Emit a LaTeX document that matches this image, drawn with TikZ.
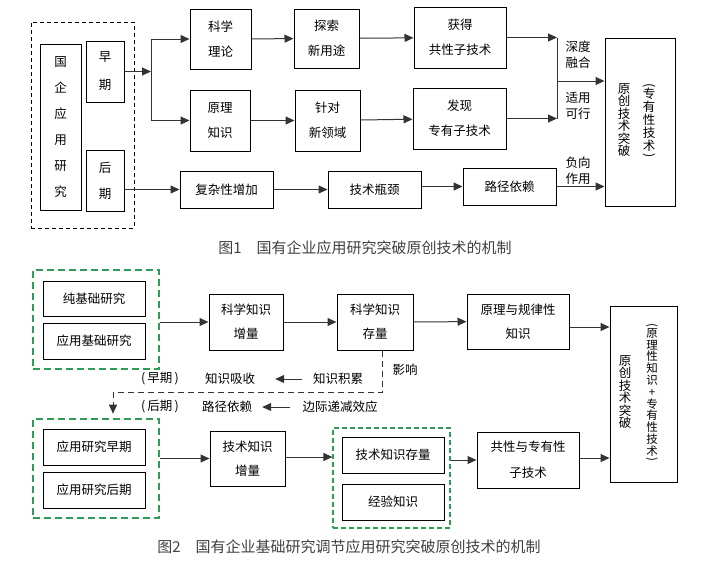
\documentclass[tikz,border=0pt]{standalone}
\usepackage{fontspec}
\setmainfont{Noto Sans CJK SC}
\usetikzlibrary{arrows.meta, calc}
\definecolor{dgreen}{HTML}{2E9B57}
\newcommand{\vlp}{\rotatebox[origin=c]{-90}{(}}
\newcommand{\vrp}{\rotatebox[origin=c]{-90}{)}}
\tikzset{
  >={Triangle[length=9pt, width=8pt]},
  box/.style={draw, line width=1pt, inner sep=0pt, align=center, font=\fontsize{12.5}{25}\selectfont},
  wire/.style={->, line width=1pt, black!80},
  lab/.style={inner sep=0pt, align=center, font=\fontsize{12.5}{16}\selectfont},
  vtext/.style={inner sep=0pt, align=center, font=\fontsize{12.5}{12.5}\selectfont},
  gframe/.style={draw=dgreen, line width=2.6pt, dash pattern=on 7pt off 4pt},
  gframethin/.style={draw=dgreen, line width=1.2pt, dash pattern=on 5pt off 3pt},
  capt/.style={inner sep=0pt, font=\fontsize{15}{18}\selectfont, text=black!75},
}

\begin{document}
\begin{tikzpicture}[x=1pt, y=-1pt]
  \useasboundingbox (0,0) rectangle (703,560);
  % ---------- figure 1 ----------
  \node[draw, line width=0.9pt, dash pattern=on 4pt off 3pt, minimum width=103pt, minimum height=206pt] (frame) at (82.5,125) {};
  \node[box, minimum width=41pt, minimum height=166pt, font=\fontsize{12.5}{26}\selectfont] (gqyy) at (60.5,127) {国\\企\\应\\用\\研\\究};
  \node[box, minimum width=38pt, minimum height=61pt, font=\fontsize{12.5}{28}\selectfont] (zaoqi) at (105,71.5) {早\\期};
  \node[box, minimum width=38pt, minimum height=61pt, font=\fontsize{12.5}{26}\selectfont] (houqi) at (105,180.5) {后\\期};

  \node[box, minimum width=61pt, minimum height=60pt] (kxll) at (220.5,39) {科学\\理论};
  \node[box, minimum width=65pt, minimum height=59pt] (tsxyt) at (326.5,38.5) {探索\\新用途};
  \node[box, minimum width=92pt, minimum height=61pt] (hdgx) at (460,37.5) {获得\\共性子技术};
  \node[box, minimum width=60pt, minimum height=61pt] (ylzs) at (220,120.5) {原理\\知识};
  \node[box, minimum width=65pt, minimum height=61pt] (zdxly) at (327.5,120.5) {针对\\新领域};
  \node[box, minimum width=93pt, minimum height=61pt] (fxzy) at (459.5,118.5) {发现\\专有子技术};
  \node[box, minimum width=93pt, minimum height=37pt] (fzx) at (226.5,189.5) {复杂性增加};
  \node[box, minimum width=93pt, minimum height=37pt] (jspj) at (374.5,189.5) {技术瓶颈};
  \node[box, minimum width=93pt, minimum height=37pt] (ljyl) at (509.5,186.5) {路径依赖};

  \node[box, minimum width=70pt, minimum height=168pt] (yc1) at (640,122) {};
  \node[vtext] (yc1a) at (624,120) {原\\创\\技\\术\\突\\破};
  \node[vtext, font=\fontsize{12.5}{13}\selectfont] (yc1b) at (649,121.5) {\vlp\\[-4pt]专\\有\\性\\技\\术\\[-4pt]\vrp};

  \coordinate (br) at (151,71.5);
  \coordinate (mg) at (557,81);
  \draw[wire] (zaoqi.east) -- (br);
  \draw[wire] (br) |- (kxll.west);
  \draw[wire] (br) |- (ylzs.west);
  \draw[wire] (kxll) -- (tsxyt);
  \draw[wire] (tsxyt) -- (hdgx);
  \draw[wire] (ylzs) -- (zdxly);
  \draw[wire] (zdxly) -- (fxzy);
  \draw[wire] (hdgx.east) -- (hdgx.east -| mg);
  \draw[wire] (fxzy.east) -- (fxzy.east -| mg);
  \draw[line width=1pt, black!80] (mg |- hdgx.east) -- (mg |- fxzy.east);
  \draw[wire] (mg) -- (mg -| yc1.west);
  \draw[wire] (houqi.east |- fzx) -- (fzx);
  \draw[wire] (fzx) -- (jspj.west |- fzx);
  \draw[wire] (jspj.east |- ljyl) -- (ljyl);
  \draw[wire] (ljyl.east) -- (ljyl.east -| yc1.west);

  \node[lab] (sdrh) at (578,55) {深度\\融合};
  \node[lab] (sykx) at (578,105.5) {适用\\可行};
  \node[lab] (fxzy2) at (578,170.5) {负向\\作用};

  \node[capt] (cap1) at (365,248) {图1\hspace{1em}国有企业应用研究突破原创技术的机制};

  % ---------- figure 2 ----------
  \node[gframe, minimum width=126pt, minimum height=99pt] (gbox1) at (96,319.5) {};
  \node[box, minimum width=102pt, minimum height=35pt] (cjc) at (94,298.5) {纯基础研究};
  \node[box, minimum width=102pt, minimum height=36pt] (yyjc) at (94,341) {应用基础研究};
  \node[box, minimum width=74pt, minimum height=56pt, font=\fontsize{12.5}{24}\selectfont] (kxzl) at (246,322) {科学知识\\增量};
  \node[box, minimum width=76pt, minimum height=56pt, font=\fontsize{12.5}{24}\selectfont] (kxcl) at (375,322) {科学知识\\存量};
  \node[box, minimum width=102pt, minimum height=55pt, font=\fontsize{12.5}{24}\selectfont] (ylgl) at (518,321.5) {原理与规律性\\知识};

  \node[box, minimum width=67pt, minimum height=176pt] (yc2) at (643.5,394) {};
  \node[vtext] (yc2a) at (625,392) {原\\创\\技\\术\\突\\破};
  \node[vtext, font=\fontsize{11.5}{11.8}\selectfont] (yc2b) at (652,393.5) {\vlp\\[-4pt]原\\理\\性\\知\\识\\+\\专\\有\\性\\技\\术\\[-4pt]\vrp};

  \draw[wire] (gbox1.east |- kxzl) -- (kxzl);
  \draw[wire] (kxzl) -- (kxcl);
  \draw[wire] (kxcl) -- (ylgl);
  \draw[wire] (ylgl.east |- 0,327) -- (yc2.west |- 0,327);

  \node[lab] (yx) at (405,370) {影响};
  \node[lab] (zq) at (160,379) {(\,早期\,)};
  \node[lab] (zsxs) at (230,379) {知识吸收};
  \node[lab] (zsjl) at (338,379) {知识积累};
  \node[lab] (hq) at (160,407) {(\,后期\,)};
  \node[lab] (ljyl2) at (227,407) {路径依赖};
  \node[lab] (bjdj) at (340,407) {边际递减效应};
  \draw[wire, shorten <=11pt, shorten >=20pt] (zsjl) -- (zsxs);
  \draw[wire, shorten <=12pt, shorten >=10pt] (bjdj) -- (ljyl2);

  \node[gframe, minimum width=126pt, minimum height=99pt] (gbox2) at (96,468.5) {};
  \node[box, minimum width=102pt, minimum height=36pt] (yyzq) at (94,447) {应用研究早期};
  \node[box, minimum width=102pt, minimum height=36pt] (yyhq) at (94,490) {应用研究后期};
  \node[box, minimum width=75pt, minimum height=55pt, font=\fontsize{12.5}{24}\selectfont] (jszl) at (247.5,458.5) {技术知识\\增量};
  \node[gframethin, minimum width=117pt, minimum height=100pt] (gbox3) at (391.5,478) {};
  \node[box, minimum width=102pt, minimum height=36pt] (jscl) at (393,455) {技术知识存量};
  \node[box, minimum width=102pt, minimum height=36pt] (jyzs) at (393,502) {经验知识};
  \node[box, minimum width=102pt, minimum height=56pt, font=\fontsize{12.5}{26}\selectfont] (gxzy) at (528,460) {共性与专有性\\子技术};

  \coordinate (dA) at (382,392);
  \coordinate (dB) at (113,392);
  \draw[wire, dash pattern=on 6pt off 4pt, shorten >=4pt] (kxcl.south -| dA) -- (dA) -- (dB) -- (dB |- gbox2.north);

  \draw[wire] (gbox2.east |- jszl) -- (jszl);
  \draw[wire] (jszl.east |- 0,457) -- (gbox3.west |- 0,457);
  \draw[wire] (gbox3.east |- gxzy) -- (gxzy);
  \draw[wire] (gxzy.east |- 0,458) -- (yc2.west |- 0,458);

  \node[capt] (cap2) at (349,547) {图2\hspace{1em}国有企业基础研究调节应用研究突破原创技术的机制};
\end{tikzpicture}
\end{document}
